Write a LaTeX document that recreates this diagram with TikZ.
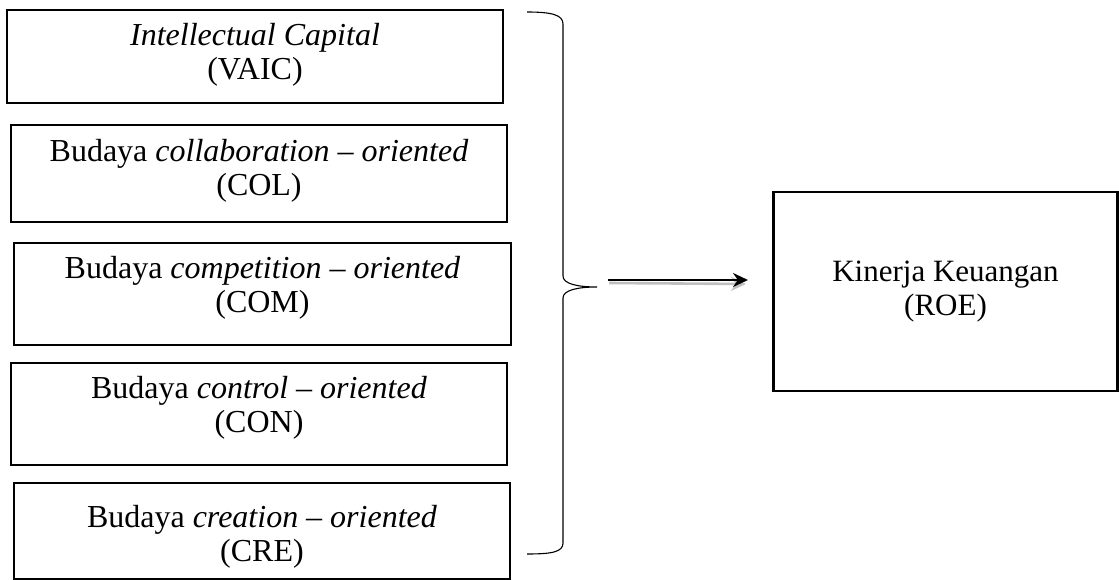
\documentclass[tikz,border=0pt]{standalone}
\usepackage{fontspec}
\setmainfont{Liberation Serif}
\usetikzlibrary{arrows.meta}
\begin{document}
\begin{tikzpicture}[x=1pt,y=-1pt,
  varbox/.style={draw=black,line width=1.6pt,inner sep=0pt,outer sep=0pt},
  boxtext/.style={align=center,inner sep=0pt,font=\fontsize{32}{34}\selectfont},
  roetext/.style={align=center,inner sep=0pt,font=\fontsize{31}{34}\selectfont},
  bracepath/.style={draw=black,line width=1.1pt},
  mainarrow/.style={line width=2.6pt,-{Stealth[length=15pt,width=14pt]}},
  shadowarrow/.style={line width=2.6pt,draw=black!25,-{Stealth[length=15pt,width=14pt]},color=black!25}]
\useasboundingbox (0,0) rectangle (1119,580);
\node[varbox,minimum width=496pt,minimum height=93pt] (vaic) at (255,56.5) {};
\node[varbox,minimum width=496pt,minimum height=97pt] (col) at (259,173.5) {};
\node[varbox,minimum width=497pt,minimum height=102pt] (com) at (262.5,294) {};
\node[varbox,minimum width=496pt,minimum height=102pt] (con) at (259,414) {};
\node[varbox,minimum width=496pt,minimum height=96pt] (cre) at (262,531) {};
\node[varbox,line width=2.2pt,minimum width=344pt,minimum height=199pt] (roe) at (945.5,291.5) {};
\node[boxtext] (tvaic) at ([yshift=2pt]vaic.center)
  {\textit{Intellectual Capital}\\(VAIC)};
\node[boxtext] (tcol) at ([yshift=3pt]col.center)
  {Budaya \textit{collaboration} \textendash{} \textit{oriented}\\(COL)};
\node[boxtext] (tcom) at ([yshift=6pt]com.center)
  {Budaya \textit{competition} \textendash{} \textit{oriented}\\(COM)};
\node[boxtext] (tcon) at ([yshift=6pt]con.center)
  {Budaya \textit{control} \textendash{} \textit{oriented}\\(CON)};
\node[boxtext] (tcre) at ([yshift=-6pt]cre.center)
  {Budaya \textit{creation} \textendash{} \textit{oriented}\\(CRE)};
\node[roetext] (troe) at (roe.center) {Kinerja Keuangan\\(ROE)};
% brace
\draw[bracepath] (527,12) .. controls (552,12) and (563,15) .. (563,24)
  -- (563,276) .. controls (563,284) and (578,287) .. (597,287)
  .. controls (578,287) and (563,290) .. (563,298)
  -- (563,543) .. controls (563,552) and (552,554) .. (527,554);
% arrow
\coordinate (as) at (608,280);
\coordinate (ae) at (748,280);
\coordinate (ss) at (609,283);
\coordinate (se) at (746,284);
\draw[shadowarrow] (ss) -- (se);
\draw[mainarrow] (as) -- (ae);
\end{tikzpicture}
\end{document}
